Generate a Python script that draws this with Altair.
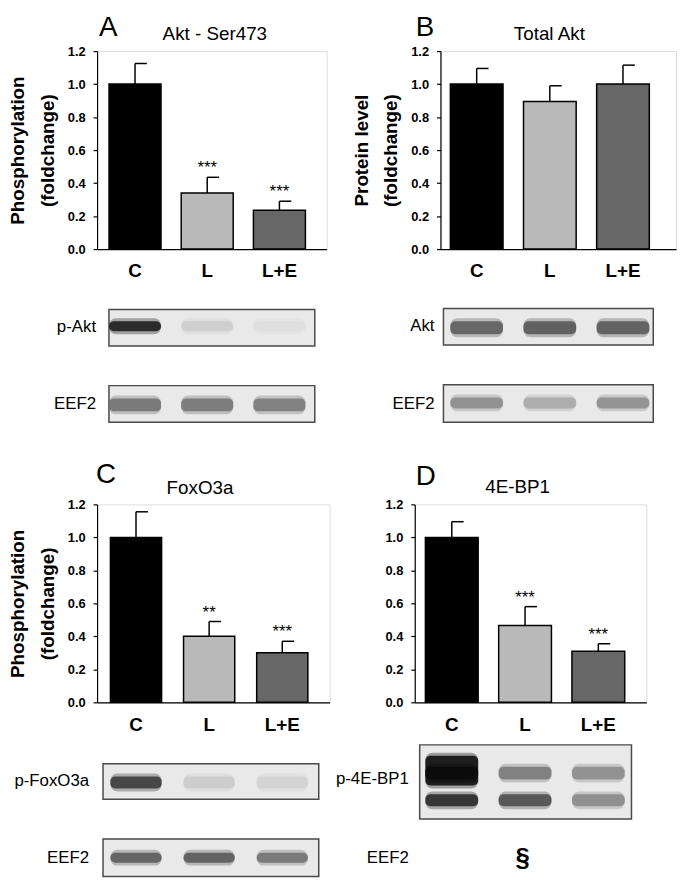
import altair as alt
import pandas as pd

FONT = "Liberation Sans"

CATS = ["C", "L", "L+E"]
BAR_COLORS = ["#000000", "#b9b9b9", "#676767"]
Y_TICKS = [0.0, 0.2, 0.4, 0.6, 0.8, 1.0, 1.2]

# Panel A: Akt - Ser473 (phosphorylation, fold change)
A_MEAN = [1.00, 0.34, 0.235]
A_SEM = [0.125, 0.095, 0.055]
A_SIG = ["", "***", "***"]
# Panel B: Total Akt (protein level, fold change)
B_MEAN = [1.00, 0.895, 1.00]
B_SEM = [0.095, 0.095, 0.115]
B_SIG = ["", "", ""]
# Panel C: FoxO3a (phosphorylation, fold change)
C_MEAN = [1.00, 0.40, 0.30]
C_SEM = [0.155, 0.09, 0.07]
C_SIG = ["", "**", "***"]
# Panel D: 4E-BP1 (phosphorylation, fold change)
D_MEAN = [1.00, 0.465, 0.31]
D_SEM = [0.095, 0.115, 0.045]
D_SIG = ["", "***", "***"]

# western-blot band shades per lane (C, L, L+E)
A_PAKT = ["#1e1e1e", "#cdcdcd", "#dedede"]
A_EEF2 = ["#727272", "#767676", "#7a7a7a"]
B_AKT = ["#5e5e5e", "#585858", "#5a5a5a"]
B_EEF2 = ["#8c8c8c", "#a8a8a8", "#8e8e8e"]
C_PFOX = ["#3c3c3c", "#cbcbcb", "#d2d2d2"]
C_EEF2 = ["#5c5c5c", "#5a5a5a", "#727272"]
D_BLOB = ["#111111", "rgba(0,0,0,0)", "rgba(0,0,0,0)"]
D_UPPER = ["#0a0a0a", "#7a7a7a", "#8c8c8c"]
D_LOWER = ["#2a2a2a", "#4e4e4e", "#8a8a8a"]


def text_layer(txt, x, y, size, weight="normal", align="left", baseline="alphabetic"):
    return alt.Chart(pd.DataFrame({"t": [txt]})).mark_text(
        font=FONT, fontSize=size, fontWeight=weight, align=align,
        baseline=baseline, color="black"
    ).encode(x=alt.value(x), y=alt.value(y), text="t:N")


def frame_layer(x1, x2, y1, y2):
    return alt.Chart(pd.DataFrame({"f": [1]})).mark_rect(
        fill="#e9e9e9", stroke="#4a4a4a", strokeWidth=1.5
    ).encode(x=alt.value(x1), x2=alt.value(x2), y=alt.value(y1), y2=alt.value(y2))


def panel(mean, sem, sig, width, ytitle, pin, pout, align, letter, letter_xy,
          title, title_xy, frames, labels, bands, extras=()):
    df = pd.DataFrame({
        "cat": CATS,
        "mean": mean,
        "top": [m + s for m, s in zip(mean, sem)],
        "sig": sig,
    })
    xscale = alt.Scale(domain=CATS, paddingInner=pin, paddingOuter=pout, align=align)
    xaxis = alt.Axis(title=None, labelAngle=0, labelFont=FONT, labelFontSize=19,
                     labelFontWeight="bold", labelColor="black", ticks=False,
                     tickSize=0, labelPadding=13, domainColor="black", domainWidth=1.2)
    xenc = alt.X("cat:N", sort=CATS, scale=xscale, axis=xaxis)
    yscale = alt.Scale(domain=[0, 1.2], nice=False, zero=True)
    yaxis = alt.Axis(values=Y_TICKS, format=".1f", title=ytitle, grid=False,
                     labelFont=FONT, labelFontSize=13, labelFontWeight="bold",
                     labelColor="black", labelPadding=8, tickSize=4,
                     tickColor="black", tickWidth=1.2, domainColor="black",
                     domainWidth=1.2, titleFont=FONT, titleFontSize=19,
                     titleFontWeight="bold", titleColor="black",
                     titleLineHeight=30, titlePadding=10)
    base = alt.Chart(df)
    bars = base.mark_bar(stroke="black", strokeWidth=1.5).encode(
        x=xenc,
        y=alt.Y("mean:Q", scale=yscale, axis=yaxis),
        color=alt.Color("cat:N", scale=alt.Scale(domain=CATS, range=BAR_COLORS), legend=None),
    )
    err = base.mark_rule(color="black", strokeWidth=1.5).encode(
        x=xenc, y=alt.Y("mean:Q", scale=yscale, axis=yaxis), y2="top:Q")
    cap = base.mark_tick(orient="horizontal", size=12, thickness=1.5,
                         xOffset=6, color="black", opacity=1).encode(
        x=xenc, y=alt.Y("top:Q", scale=yscale, axis=yaxis))
    stars = base.mark_text(font=FONT, fontSize=17, dy=-4, baseline="alphabetic",
                           color="black").encode(
        x=xenc, y=alt.Y("top:Q", scale=yscale, axis=yaxis), text="sig:N")

    layers = [bars, err, cap, stars]
    layers.append(text_layer(letter, letter_xy[0], letter_xy[1], 28))
    layers.append(text_layer(title, title_xy[0], title_xy[1], 19, align="center"))
    for fr in frames:
        layers.append(frame_layer(*fr))
    for shades, y1, y2 in bands:
        bdf = pd.DataFrame({"cat": CATS, "shade": shades})
        bch = alt.Chart(bdf)
        layers.append(bch.mark_rect(cornerRadius=7, opacity=0.35).encode(
            x=xenc, y=alt.value(y1 - 3), y2=alt.value(y2 + 3),
            fill=alt.Fill("shade:N", scale=None)))
        layers.append(bch.mark_rect(cornerRadius=5, opacity=0.9).encode(
            x=xenc, y=alt.value(y1), y2=alt.value(y2),
            fill=alt.Fill("shade:N", scale=None)))
    for txt, x, y in labels:
        layers.append(text_layer(txt, x, y, 17, align="right", baseline="middle"))
    for txt, x, y, size in extras:
        layers.append(text_layer(txt, x, y, size, weight="bold", align="center", baseline="middle"))
    return alt.layer(*layers).properties(width=width, height=200)


pA = panel(A_MEAN, A_SEM, A_SIG, 232, ["Phosphorylation", "(foldchange)"], 0.28, 0.23, 0.36,
           "A", (2, -15), "Akt - Ser473", (119, -11),
           [(12, 220, 261, 298), (12, 220, 338, 375)],
           [("p-Akt", -1, 279), ("EEF2", -1, 357)],
           [(A_PAKT, 273, 283), (A_EEF2, 351, 364)])
pB = panel(B_MEAN, B_SEM, B_SIG, 238, ["Protein level", "(foldchange)"], 0.28, 0.25, 0.27,
           "B", (-25, -15), "Total Akt", (110, -11),
           [(3, 215, 260, 297), (3, 215, 337, 375)],
           [("Akt", -6, 278), ("EEF2", -6, 357)],
           [(B_AKT, 273, 286), (B_EEF2, 350, 361)])
pC = panel(C_MEAN, C_SEM, C_SIG, 235, ["Phosphorylation", "(foldchange)"], 0.30, 0.24, 0.38,
           "C", (-1, -22), "FoxO3a", (104, -10),
           [(6, 224, 262, 298), (6, 224, 338, 376)],
           [("p-FoxO3a", -8, 280), ("EEF2", -8, 357)],
           [(C_PFOX, 275, 287), (C_EEF2, 352, 362)])
pD = panel(D_MEAN, D_SEM, D_SIG, 234, None, 0.28, 0.22, 0.33,
           "D", (1, -20), "4E-BP1", (104, -11),
           [(5, 219, 243, 318)],
           [("p-4E-BP1", -6, 278), ("EEF2", -6, 357)],
           [(D_BLOB, 254, 284), (D_UPPER, 265, 278), (D_LOWER, 293, 305)],
           extras=[("§", 109, 357, 26)])

row1 = alt.hconcat(pA, pB, spacing=115, bounds="flush")
row2 = alt.hconcat(pC, pD, spacing=86, bounds="flush")

chart = alt.vconcat(row1, row2, spacing=36).properties(
    padding={"left": 0, "top": 1, "right": 0, "bottom": 0}
).configure_view(stroke=None).configure(background="white")

chart.save("out.html", embed_options={"renderer": "svg", "actions": False})
